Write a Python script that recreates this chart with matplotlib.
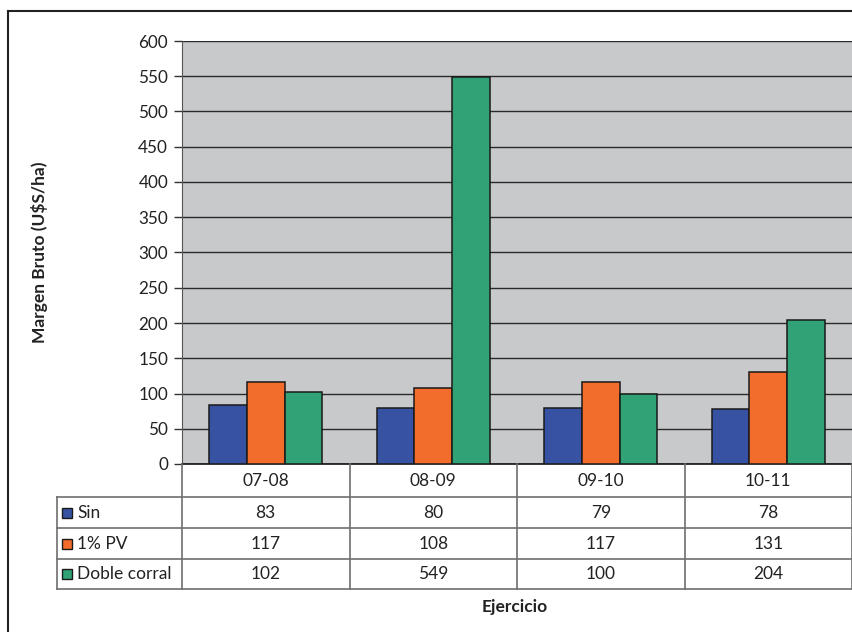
import numpy as np
import matplotlib.pyplot as plt
from matplotlib.patches import Rectangle

# ----------------------------------------------------------------
#  Data
# ----------------------------------------------------------------
ejercicios = ["07-08", "08-09", "09-10", "10-11"]
series_names = ["Sin", "1% PV", "Doble corral"]
sin = [83, 80, 79, 78]
pv = [117, 108, 117, 131]
doble = [102, 549, 100, 204]
colors = ["#3852A3", "#F26C2C", "#30A276"]
yticks = list(range(0, 601, 50))

plt.rcParams['font.family'] = ['Lato', 'DejaVu Sans']

W, H = 852, 632
fig = plt.figure(figsize=(W / 100, H / 100), dpi=100)


def fx(x):
    return x / W


def fy(y):
    return 1 - y / H


# ----------------------------------------------------------------
#  Main bar chart
# ----------------------------------------------------------------
L, R, T, B = 182, 852, 41, 464
ax = fig.add_axes([fx(L), fy(B), fx(R - L), fy(T) - fy(B)])
ax.set_facecolor("#C8C9CB")

x = np.arange(len(ejercicios))
bw = 0.224
for i, (vals, c) in enumerate(zip([sin, pv, doble], colors)):
    ax.bar(x + (i - 1) * bw, vals, width=bw, color=c, edgecolor="#1a1a1a",
           linewidth=1.1, zorder=3)

ax.set_xlim(-0.5, len(ejercicios) - 0.5)
ax.set_ylim(0, 600)
ax.set_yticks(yticks)
ax.set_xticks([])
ax.yaxis.grid(True, color="#2a2a2a", linewidth=1.0, zorder=1)
ax.set_axisbelow(True)
ax.tick_params(axis="y", length=6, width=1, color="#333333", labelsize=12.3,
               labelcolor="#222222", pad=4)
for s in ["top", "right"]:
    ax.spines[s].set_visible(False)
ax.spines["left"].set_color("#555555")
ax.spines["bottom"].set_color("#111111")
ax.spines["bottom"].set_linewidth(1.2)

# ----------------------------------------------------------------
#  Data table below the plot
# ----------------------------------------------------------------
TL, TB = 57, 589
cw = (R - L) / len(ejercicios)
tab = fig.add_axes([fx(TL), fy(TB), fx(R - TL), fy(B) - fy(TB)])
tab.set_xlim(TL, R)
tab.set_ylim(TB, B)
tab.axis("off")

row_y = [464, 497, 528, 559, 589]
lc = "#6e6e6e"
for y in row_y[1:]:
    tab.plot([TL, R], [y, y], color=lc, lw=1.2, clip_on=False)
tab.plot([TL, TL], [row_y[1], row_y[-1]], color=lc, lw=1.2, clip_on=False)
for k in range(len(ejercicios) + 1):
    xx = L + k * cw
    tab.plot([xx, xx], [row_y[0], row_y[-1]], color=lc, lw=1.2, clip_on=False)

fs = 12.5
for k, lab in enumerate(ejercicios):
    xc = L + (k + 0.5) * cw
    tab.text(xc, (row_y[0] + row_y[1]) / 2, lab, ha="center", va="center",
             fontsize=fs, color="#222222")

for r, (name, vals, c) in enumerate(zip(series_names, [sin, pv, doble], colors)):
    yc = (row_y[r + 1] + row_y[r + 2]) / 2
    tab.add_patch(Rectangle((62, yc - 5), 10, 10, facecolor=c,
                            edgecolor="#1a1a1a", lw=1, clip_on=False))
    tab.text(77, yc, name, ha="left", va="center", fontsize=fs, color="#222222")
    for k, v in enumerate(vals):
        tab.text(L + (k + 0.5) * cw, yc, str(v), ha="center", va="center",
                 fontsize=fs, color="#222222")

# ----------------------------------------------------------------
#  Axis titles and outer frame
# ----------------------------------------------------------------
fig.text(fx(40), fy(252), "Margen Bruto (U$S/ha)", rotation=90,
         ha="center", va="center", fontsize=12.5, fontweight="bold", color="#222222")
fig.text(fx(515), fy(607), "Ejercicio", ha="center", va="center",
         fontsize=12.5, fontweight="bold", color="#222222")

fig.add_artist(plt.Line2D([fx(8), fx(8)], [fy(11), 0], color="#222222", lw=1.5))
fig.add_artist(plt.Line2D([fx(8), 1], [fy(11), fy(11)], color="#222222", lw=1.5))

fig.savefig("out.png", dpi=100)
